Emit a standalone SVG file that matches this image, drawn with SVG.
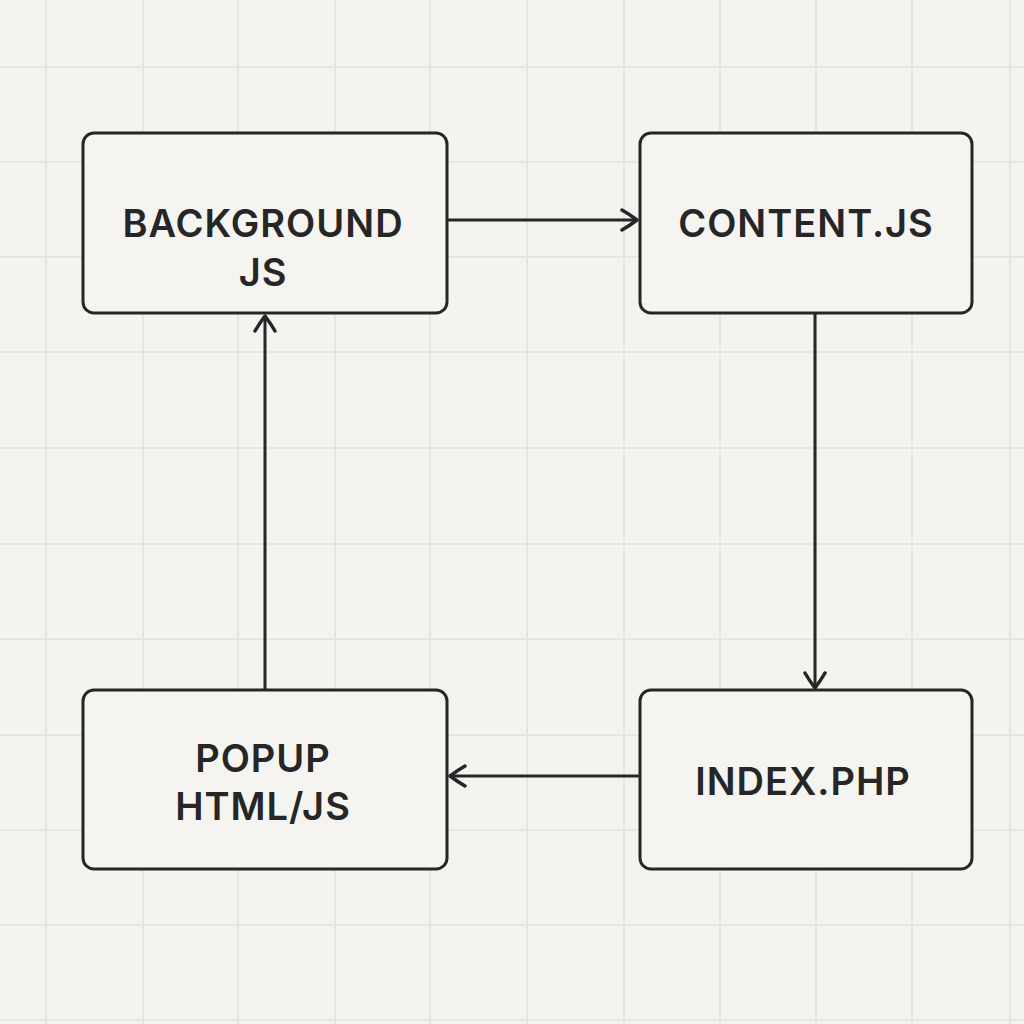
<svg xmlns="http://www.w3.org/2000/svg" width="1024" height="1024" viewBox="0 0 1024 1024">
<defs>
<style>
.grid line{stroke:#e7e5e0;stroke-width:2}
.node rect{fill:#f5f4f0;stroke:#262626;stroke-width:3}
.node text{font-family:Inter,"Liberation Sans",sans-serif;font-weight:600;font-size:38px;letter-spacing:1px;fill:#262626;text-anchor:middle}
.conn line{stroke:#262626;stroke-width:3;fill:none}
</style>
<marker id="ah" viewBox="0 0 24 24" refX="20" refY="12" markerWidth="24" markerHeight="24" markerUnits="userSpaceOnUse" orient="auto">
<path d="M5,2 Q12,6 20,12 Q12,18 5,22" fill="none" stroke="#262626" stroke-width="3.5" stroke-linecap="round" stroke-linejoin="round"/>
</marker>
</defs>
<rect width="1024" height="1024" fill="#f4f3ef"/>
<g class="grid">
<line x1="46" y1="0" x2="46" y2="1024"/><line x1="143" y1="0" x2="143" y2="1024"/><line x1="238" y1="0" x2="238" y2="1024"/><line x1="335" y1="0" x2="335" y2="1024"/><line x1="430" y1="0" x2="430" y2="1024"/><line x1="527" y1="0" x2="527" y2="1024"/><line x1="624" y1="0" x2="624" y2="1024"/><line x1="720" y1="0" x2="720" y2="1024"/><line x1="816" y1="0" x2="816" y2="1024"/><line x1="912" y1="0" x2="912" y2="1024"/><line x1="1010" y1="0" x2="1010" y2="1024"/>
<line x1="0" y1="67" x2="1024" y2="67"/><line x1="0" y1="162" x2="1024" y2="162"/><line x1="0" y1="257" x2="1024" y2="257"/><line x1="0" y1="352" x2="1024" y2="352"/><line x1="0" y1="448" x2="1024" y2="448"/><line x1="0" y1="544" x2="1024" y2="544"/><line x1="0" y1="639" x2="1024" y2="639"/><line x1="0" y1="735" x2="1024" y2="735"/><line x1="0" y1="830" x2="1024" y2="830"/><line x1="0" y1="925" x2="1024" y2="925"/><line x1="0" y1="1020" x2="1024" y2="1020"/>
</g>
<g class="conn">
<line x1="448" y1="220" x2="637" y2="220" marker-end="url(#ah)"/>
<line x1="815" y1="314" x2="815" y2="688" marker-end="url(#ah)"/>
<line x1="639" y1="776" x2="450" y2="776" marker-end="url(#ah)"/>
<line x1="265" y1="689" x2="265" y2="316" marker-end="url(#ah)"/>
</g>
<g id="background" class="node">
<rect x="83" y="133" width="364" height="180" rx="11"/>
<text x="263" y="237">BACKGROUND</text>
<text x="263" y="286">JS</text>
</g>
<g id="content" class="node">
<rect x="640" y="133" width="332" height="180" rx="11"/>
<text x="806" y="237">CONTENT.JS</text>
</g>
<g id="index" class="node">
<rect x="640" y="690" width="332" height="179" rx="11"/>
<text x="803" y="795">INDEX.PHP</text>
</g>
<g id="popup" class="node">
<rect x="83" y="690" width="364" height="179" rx="11"/>
<text x="263" y="772">POPUP</text>
<text x="263" y="820">HTML/JS</text>
</g>
</svg>
